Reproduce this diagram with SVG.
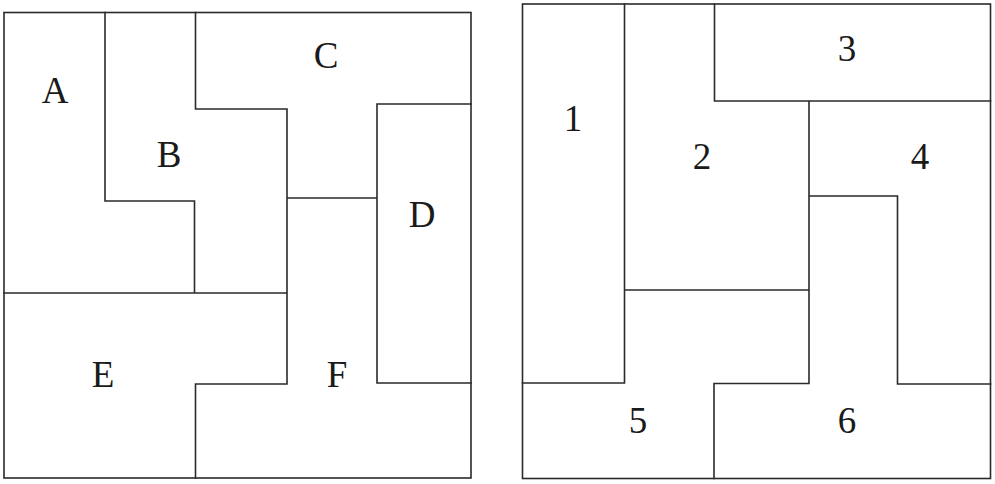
<svg xmlns="http://www.w3.org/2000/svg" width="995" height="484" viewBox="0 0 995 484">
<style>
.ln{fill:none;stroke:#2a2a2a;stroke-width:1.6;stroke-linecap:square}
.lb{font-family:"Liberation Serif","Times New Roman",serif;font-size:37px;fill:#1a1a1a;text-anchor:middle}
</style>
<rect width="995" height="484" fill="#fff"/>
<g id="left-square">
<rect class="ln" x="4" y="12.5" width="467" height="465.5"/>
<path class="ln" d="M105,12.5V201H194.5V293M195.5,12.5V109H287V384M287,198H377M377,104H471M377,104V383H471M4,293H287M195.5,384H287M195.5,384V478"/>
</g>
<g id="A"><text class="lb" x="55" y="103">A</text></g>
<g id="B"><text class="lb" x="169" y="167">B</text></g>
<g id="C"><text class="lb" x="326" y="68">C</text></g>
<g id="D"><text class="lb" x="422" y="227">D</text></g>
<g id="E"><text class="lb" x="103" y="387">E</text></g>
<g id="F"><text class="lb" x="337" y="387">F</text></g>
<g id="right-square">
<rect class="ln" x="522.5" y="4" width="468" height="474.5"/>
<path class="ln" d="M624.5,4V383H522.5M714.5,4V101H990.5M809,101V383.5H714V478.5M809,196H897.5V384H990.5M624.5,290H809"/>
</g>
<g id="n1"><text class="lb" x="573" y="131">1</text></g>
<g id="n2"><text class="lb" x="702" y="169">2</text></g>
<g id="n3"><text class="lb" x="847" y="61">3</text></g>
<g id="n4"><text class="lb" x="920" y="169">4</text></g>
<g id="n5"><text class="lb" x="638" y="433">5</text></g>
<g id="n6"><text class="lb" x="847" y="433">6</text></g>
</svg>
